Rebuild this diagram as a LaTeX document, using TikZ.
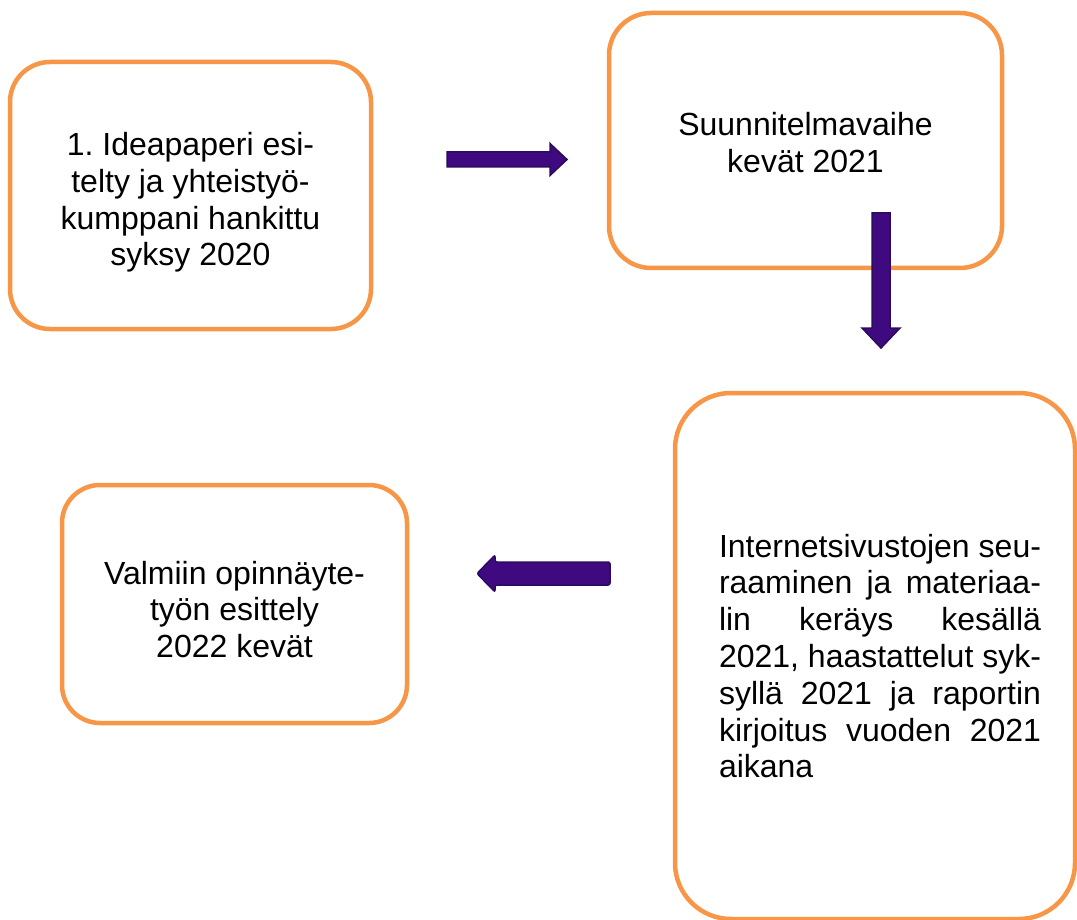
\documentclass[tikz,border=0pt]{standalone}
\usepackage{fontspec}
\setmainfont{Liberation Sans}
\usetikzlibrary{positioning}
\frenchspacing
\definecolor{boxorange}{HTML}{F79646}
\definecolor{arrowfill}{HTML}{3F0A80}
\definecolor{arrowline}{HTML}{2C0A5E}
\newcommand\DrawBlockArrow[7][]{%
  % #2 tail, #3 angle, #4 length, #5 shaft width, #6 head width, #7 head length
  \begin{scope}[shift={#2},rotate=#3]
    \draw[block arrow,#1] (0,-#5/2) -- (#4-#7,-#5/2) -- (#4-#7,-#6/2) -- (#4,0)
      -- (#4-#7,#6/2) -- (#4-#7,#5/2) -- (0,#5/2) -- cycle;
  \end{scope}
}
\newcommand\JustLine[1]{\makebox[322pt][s]{#1}}
\newcommand\TopPad[1]{\rule{0pt}{#1}}
\tikzset{
  stage box/.style={draw=boxorange,line width=4.5pt,fill=white,
    rounded corners=#1,align=center,inner sep=0pt,
    font=\fontsize{32}{36.8}\selectfont},
  stage box/.default=40pt,
  block arrow/.style={draw=arrowline,fill=arrowfill,line width=1.5pt}
}
\begin{document}
\begin{tikzpicture}[x=1pt,y=-1pt]
	\useasboundingbox (0,0) rectangle (1077,920);

	% stages
	\node[stage box=40pt,minimum width=361pt,minimum height=267pt] (idea) at (190.5,195.5)
	    {\TopPad{37pt}1. Ideapaperi esi-\\telty ja yhteistyö-\\kumppani hankittu\\syksy 2020};
	\node[stage box=42pt,minimum width=393pt,minimum height=255pt] (plan) at (805.5,140.5)
	    {\TopPad{28pt}Suunnitelmavaihe\\kevät 2021};
	\node[stage box=56pt,minimum width=400pt,minimum height=526pt,align=left] (work) at (875,656)
	    {\hspace*{10pt}\JustLine{Internetsivustojen seu-}\\
	     \hspace*{10pt}\JustLine{raaminen ja materiaa-}\\
	     \hspace*{10pt}\JustLine{lin keräys kesällä}\\
	     \hspace*{10pt}\JustLine{2021, haastattelut syk-}\\
	     \hspace*{10pt}\JustLine{syllä 2021 ja raportin}\\
	     \hspace*{10pt}\JustLine{kirjoitus vuoden 2021}\\
	     \hspace*{10pt}\makebox[322pt][l]{aikana}};
	\node[stage box=38pt,minimum width=345pt,minimum height=238pt] (final) at (234.5,604)
	    {\TopPad{34pt}Valmiin opinnäyte-\\työn esittely\\2022 kevät};

	% block arrows between stages
	\DrawBlockArrow{(447,159.5)}{0}{120}{15}{32}{17}
	\DrawBlockArrow{(881,213)}{-90}{135}{18}{38}{20}
	\DrawBlockArrow[rounded corners=2pt]{(610,573.5)}{180}{133}{23}{37}{18}

\end{tikzpicture}
\end{document}
